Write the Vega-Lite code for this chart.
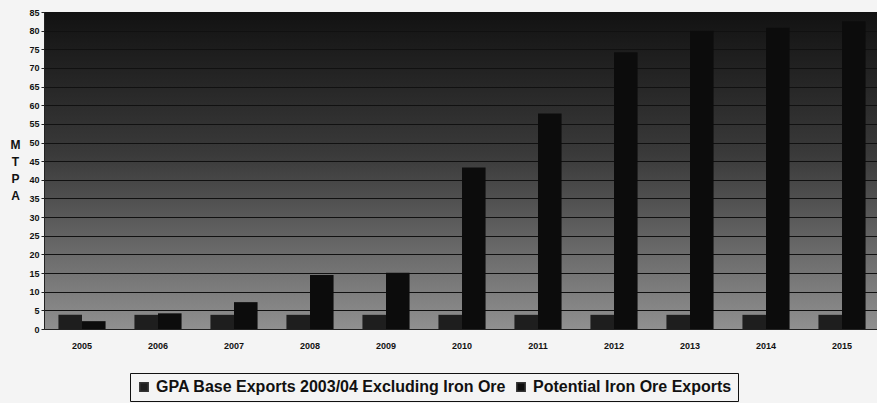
{
  "$schema": "https://vega.github.io/schema/vega-lite/v6.json",
  "width": 836,
  "height": 317,
  "autosize": "none",
  "padding": {"left": 44, "top": 12, "right": 0, "bottom": 74},
  "background": "#f4f4f4",
  "data": {
    "values": [
      {"year": "2005", "series": "GPA Base Exports 2003/04 Excluding Iron Ore", "mtpa": 3.8},
      {"year": "2005", "series": "Potential Iron Ore Exports", "mtpa": 2.1},
      {"year": "2006", "series": "GPA Base Exports 2003/04 Excluding Iron Ore", "mtpa": 3.8},
      {"year": "2006", "series": "Potential Iron Ore Exports", "mtpa": 4.2},
      {"year": "2007", "series": "GPA Base Exports 2003/04 Excluding Iron Ore", "mtpa": 3.8},
      {"year": "2007", "series": "Potential Iron Ore Exports", "mtpa": 7.2},
      {"year": "2008", "series": "GPA Base Exports 2003/04 Excluding Iron Ore", "mtpa": 3.8},
      {"year": "2008", "series": "Potential Iron Ore Exports", "mtpa": 14.5},
      {"year": "2009", "series": "GPA Base Exports 2003/04 Excluding Iron Ore", "mtpa": 3.8},
      {"year": "2009", "series": "Potential Iron Ore Exports", "mtpa": 15.1},
      {"year": "2010", "series": "GPA Base Exports 2003/04 Excluding Iron Ore", "mtpa": 3.8},
      {"year": "2010", "series": "Potential Iron Ore Exports", "mtpa": 43.3},
      {"year": "2011", "series": "GPA Base Exports 2003/04 Excluding Iron Ore", "mtpa": 3.8},
      {"year": "2011", "series": "Potential Iron Ore Exports", "mtpa": 57.8},
      {"year": "2012", "series": "GPA Base Exports 2003/04 Excluding Iron Ore", "mtpa": 3.8},
      {"year": "2012", "series": "Potential Iron Ore Exports", "mtpa": 74.2},
      {"year": "2013", "series": "GPA Base Exports 2003/04 Excluding Iron Ore", "mtpa": 3.8},
      {"year": "2013", "series": "Potential Iron Ore Exports", "mtpa": 80.0},
      {"year": "2014", "series": "GPA Base Exports 2003/04 Excluding Iron Ore", "mtpa": 3.8},
      {"year": "2014", "series": "Potential Iron Ore Exports", "mtpa": 80.8},
      {"year": "2015", "series": "GPA Base Exports 2003/04 Excluding Iron Ore", "mtpa": 3.8},
      {"year": "2015", "series": "Potential Iron Ore Exports", "mtpa": 82.5}
    ]
  },
  "mark": {"type": "bar"},
  "encoding": {
    "x": {
      "field": "year",
      "type": "nominal",
      "scale": {"paddingInner": 0.38, "paddingOuter": 0.19},
      "axis": {
        "title": null,
        "labelAngle": 0,
        "labelFont": "Liberation Sans",
        "labelFontWeight": "bold",
        "labelFontSize": 9,
        "labelColor": "#111",
        "labelPadding": 12,
        "ticks": false,
        "domainColor": "#222"
      }
    },
    "xOffset": {"field": "series", "type": "nominal"},
    "y": {
      "field": "mtpa",
      "type": "quantitative",
      "scale": {"domain": [0, 85], "nice": false},
      "axis": {
        "title": ["M", "T", "P", "A"],
        "titleAngle": 0,
        "titleFont": "Liberation Sans",
        "titleFontWeight": "bold",
        "titleFontSize": 12,
        "titleLineHeight": 17,
        "titleColor": "#111",
        "titleX": -29,
        "titleY": 127,
        "titleAlign": "center",
        "titleBaseline": "top",
        "values": [0, 5, 10, 15, 20, 25, 30, 35, 40, 45, 50, 55, 60, 65, 70, 75, 80, 85],
        "labelFont": "Liberation Sans",
        "labelFontWeight": "bold",
        "labelFontSize": 9,
        "labelColor": "#111",
        "tickSize": 3,
        "tickColor": "#222",
        "domainColor": "#222",
        "gridColor": "#111",
        "gridWidth": 1
      }
    },
    "color": {
      "field": "series",
      "type": "nominal",
      "scale": {"range": ["#1e1e1e", "#0c0c0c"]},
      "legend": {
        "title": null,
        "orient": "none",
        "direction": "horizontal",
        "legendX": 86,
        "legendY": 361,
        "strokeColor": "#111",
        "padding": 6,
        "symbolType": "square",
        "symbolSize": 70,
        "symbolFillColor": "#555",
        "symbolStrokeColor": "#333",
        "labelFont": "Liberation Sans",
        "labelFontWeight": "bold",
        "labelFontSize": 16,
        "labelColor": "#111",
        "labelLimit": 420,
        "labelOffset": 4,
        "columnPadding": 6
      }
    }
  },
  "config": {
    "view": {
      "stroke": null,
      "fill": {
        "gradient": "linear",
        "x1": 0, "y1": 0, "x2": 0, "y2": 1,
        "stops": [
          {"offset": 0, "color": "#121212"},
          {"offset": 0.45, "color": "#3a3a3a"},
          {"offset": 1, "color": "#909090"}
        ]
      }
    }
  }
}
